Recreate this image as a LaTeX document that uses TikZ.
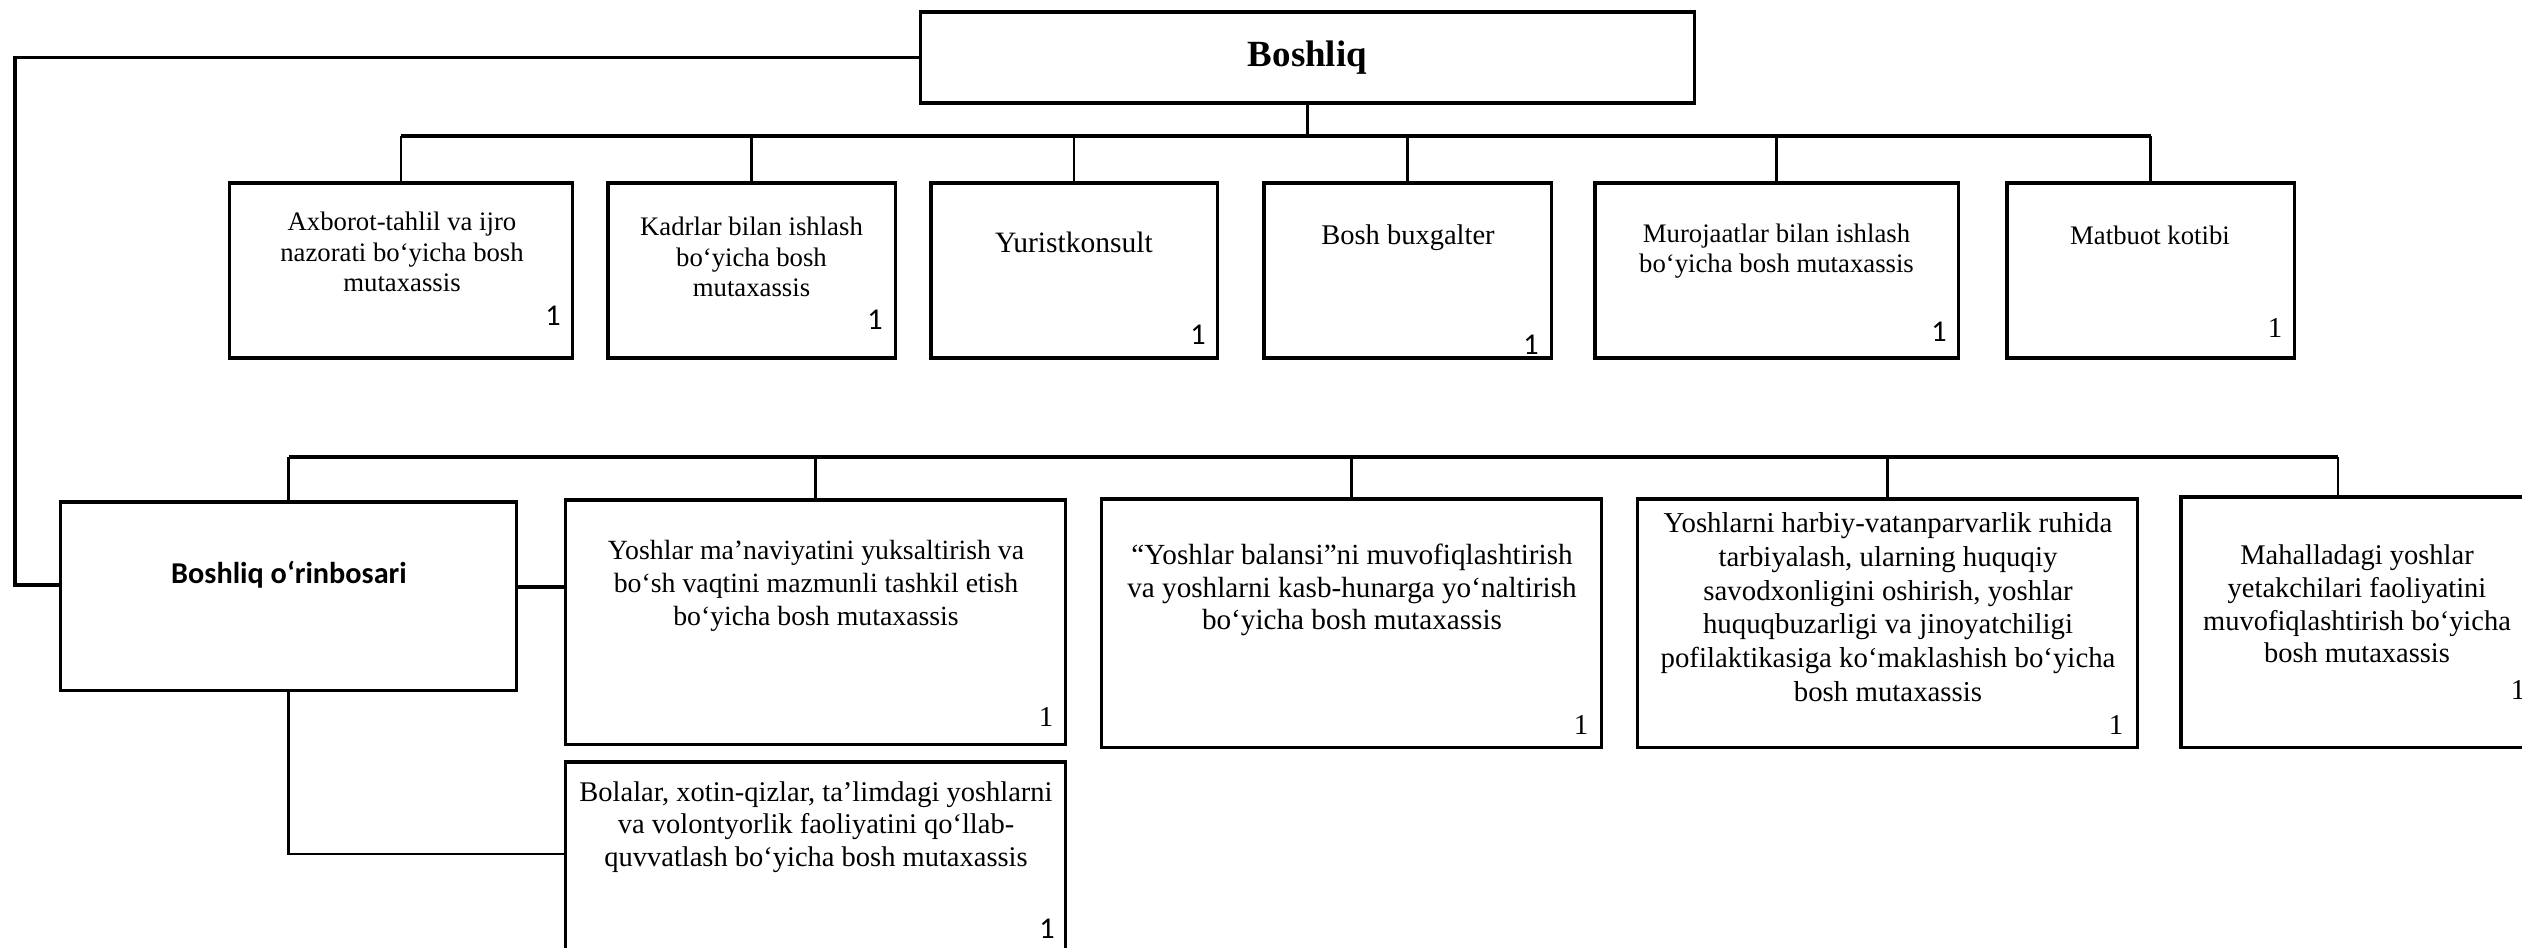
\documentclass[tikz,border=0pt]{standalone}
\usepackage{fontspec}
\setmainfont{Liberation Serif}
\newfontfamily\calibri{Carlito}
\usepackage{tikz}
\usetikzlibrary{positioning,calc}

\begin{document}
\begin{tikzpicture}[x=0.01cm, y=-0.01cm,
    unit/.style={rectangle, draw=black, line width=0.9pt, inner sep=0pt},
    toptext/.style={align=center, inner sep=0pt, font=\fontsize{7.6}{8.6}\selectfont},
    lowtext/.style={align=center, inner sep=0pt, font=\fontsize{8.1}{9.3}\selectfont},
    count/.style={inner sep=0pt, font=\fontsize{8.2}{9}\selectfont},
    countsf/.style={inner sep=0pt, font=\calibri\fontsize{8.6}{9}\selectfont},
    bus/.style={line width=1.1pt},
    stem/.style={line width=0.6pt}]

    \path[use as bounding box, clip] (0,0) rectangle (2522,947);

    % head
    \node[unit, minimum width=7.73cm, minimum height=0.91cm, font=\bfseries\fontsize{10.5}{12}\selectfont] (boss) at (1307.5,57.5) {Boshliq};

    % first row
    \node[unit, minimum width=3.42cm, minimum height=1.75cm] (axb) at (401,270.5) {};
    \node[unit, minimum width=2.87cm, minimum height=1.75cm] (kad) at (751.5,270.5) {};
    \node[unit, minimum width=2.86cm, minimum height=1.75cm] (yur) at (1074,270.5) {};
    \node[unit, minimum width=2.87cm, minimum height=1.75cm] (bux) at (1407.5,270.5) {};
    \node[unit, minimum width=3.63cm, minimum height=1.75cm] (mur) at (1776.5,270.5) {};
    \node[unit, minimum width=2.87cm, minimum height=1.75cm] (mat) at (2150.5,270.5) {};

    \node[toptext] (axbt) at (402,252) {Axborot-tahlil va ijro\\nazorati bo‘yicha bosh\\mutaxassis};
    \node[toptext] (kadt) at (751.5,257) {Kadrlar bilan ishlash\\bo‘yicha bosh\\mutaxassis};
    \node[toptext, font=\fontsize{8.4}{9}\selectfont] (yurt) at (1074,242) {Yuristkonsult};
    \node[toptext, font=\fontsize{8.1}{9}\selectfont] (buxt) at (1408,238) {Bosh buxgalter};
    \node[toptext] (murt) at (1776.5,251) {Murojaatlar bilan ishlash\\bo‘yicha bosh mutaxassis};
    \node[toptext] (matt) at (2150,235) {Matbuot kotibi};

    \node[countsf] (axbn) at (553,316) {1};
    \node[countsf] (kadn) at (875,320) {1};
    \node[countsf] (yurn) at (1198,335) {1};
    \node[countsf] (buxn) at (1531,345) {1};
    \node[countsf] (murn) at (1939,332) {1};
    \node[count] (matn) at (2275,328) {1};

    % second row
    \node[unit, minimum width=4.55cm, minimum height=1.88cm] (dep) at (288.5,596) {};
    \node[unit, minimum width=4.99cm, minimum height=2.44cm] (man) at (815.5,622) {};
    \node[unit, minimum width=4.99cm, minimum height=2.48cm] (bal) at (1351.5,623) {};
    \node[unit, minimum width=4.99cm, minimum height=2.48cm] (har) at (1887.5,623) {};
    \node[unit, minimum width=3.59cm, minimum height=2.50cm] (mah) at (2360.5,622) {};
    \node[unit, minimum width=4.99cm, minimum height=2.44cm] (bol) at (815.5,884) {};

    \node[inner sep=0pt, font=\calibri\bfseries\fontsize{8.6}{11}\selectfont] (dept) at (289,575) {Boshliq o‘rinbosari};
    \node[lowtext, font=\fontsize{7.9}{9.3}\selectfont] (mant) at (816,586) {Yoshlar ma’naviyatini yuksaltirish va\\bo‘sh vaqtini mazmunli tashkil etish\\bo‘yicha bosh mutaxassis};
    \node[lowtext, font=\fontsize{8.3}{9.3}\selectfont] (balt) at (1352,590) {“Yoshlar balansi”ni muvofiqlashtirish\\va yoshlarni kasb-hunarga yo‘naltirish\\bo‘yicha bosh mutaxassis};
    \node[lowtext, font=\fontsize{8.2}{9.6}\selectfont] (hart) at (1888,607) {Yoshlarni harbiy-vatanparvarlik ruhida\\tarbiyalash, ularning huquqiy\\savodxonligini oshirish, yoshlar\\huquqbuzarligi va jinoyatchiligi\\pofilaktikasiga ko‘maklashish bo‘yicha\\bosh mutaxassis};
    \node[lowtext] (maht) at (2357,604) {Mahalladagi yoshlar\\yetakchilari faoliyatini\\muvofiqlashtirish bo‘yicha\\bosh mutaxassis};
    \node[lowtext] (bolt) at (816,827) {Bolalar, xotin-qizlar, ta’limdagi yoshlarni\\va volontyorlik faoliyatini qo‘llab-\\quvvatlash bo‘yicha bosh mutaxassis};

    \node[count] (mann) at (1046,717) {1};
    \node[count] (baln) at (1581,725) {1};
    \node[count] (harn) at (2116,725) {1};
    \node[count] (mahn) at (2518,690) {1};
    \node[countsf] (boln) at (1047,929) {1};

    % connectors
    \coordinate (topbus) at (0,136);
    \coordinate (lowbus) at (0,457);
    \coordinate (leftrun) at (15,585);
    \coordinate (mahin) at (2338,497);

    \draw[stem] (boss.south) -- (boss.south |- topbus);
    \draw[bus] (axb.north |- topbus) -- (mat.north |- topbus);
    \foreach \b in {axb,kad,yur,bux,mur,mat}
        \draw[stem] (\b.north |- topbus) -- (\b.north);

    \draw[line width=0.9pt] (boss.west) -| (leftrun) -- (leftrun -| dep.west);

    \draw[bus] (dep.north |- lowbus) -- (mahin |- lowbus);
    \foreach \b in {dep,man,bal,har}
        \draw[stem] (\b.north |- lowbus) -- (\b.north);
    \draw[stem] (mahin |- lowbus) -- (mahin);

    \draw[line width=0.9pt] ([yshift=0.09cm]dep.east) -- ([yshift=0.09cm]dep.east -| man.west);
    \draw[stem] (dep.south) |- ([yshift=0.3cm]bol.west);
\end{tikzpicture}
\end{document}
